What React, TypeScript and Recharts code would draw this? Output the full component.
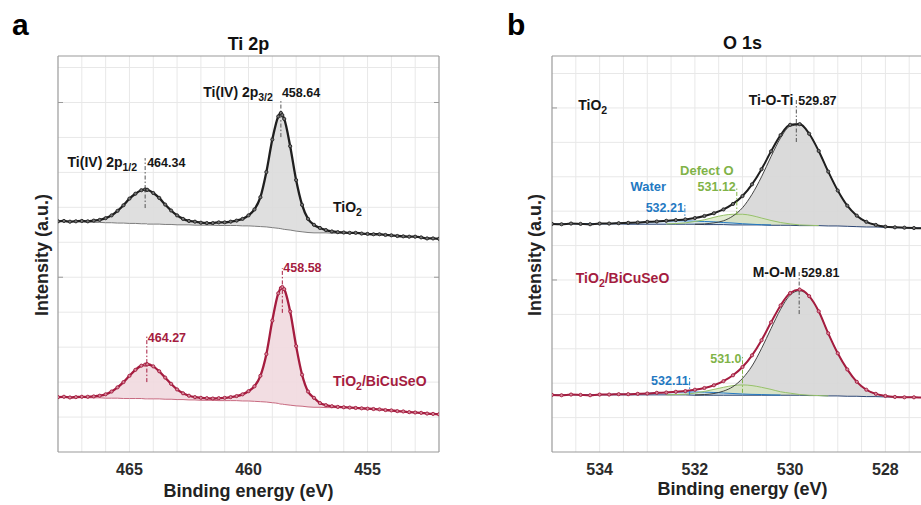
import React from 'react';
import { ComposedChart, Line, Area, XAxis, YAxis, CartesianGrid, ReferenceLine, ReferenceDot } from 'recharts';

const FONT = '"Liberation Sans", Arial, Helvetica, sans-serif';
const BLACK = '#1f1f1f';
const RED = '#a51c3f';
const GREEN = '#80b347';
const BLUE = '#2479c2';
const BOX = '#9a9a9a';
const GRID = '#e8e8e8';
const TXT = '#161616';

// ---------- Panel a : Ti 2p ----------
const A_E = [468, 467.75, 467.5, 467.25, 467, 466.75, 466.5, 466.25, 466, 465.75, 465.5, 465.25, 465, 464.75, 464.5,
  464.34, 464.27,
  464.25, 464, 463.75, 463.5, 463.25, 463, 462.75, 462.5, 462.25, 462, 461.75, 461.5, 461.25, 461, 460.75, 460.5, 460.25, 460, 459.75, 459.5, 459.25, 459, 458.75,
  458.64, 458.58,
  458.5, 458.25, 458, 457.75, 457.5, 457.25, 457, 456.75, 456.5, 456.25, 456, 455.75, 455.5, 455.25, 455, 454.75, 454.5, 454.25, 454, 453.75, 453.5, 453.25, 453, 452.75, 452.5, 452.25, 452];
const A_TIO2 = [6.60, 6.61, 6.59, 6.60, 6.61, 6.60, 6.62, 6.64, 6.69, 6.77, 6.90, 7.06, 7.25, 7.39, 7.49,
  7.51, 7.50,
  7.50, 7.41, 7.27, 7.08, 6.91, 6.77, 6.67, 6.61, 6.59, 6.56, 6.55, 6.55, 6.57, 6.57, 6.59, 6.62, 6.67, 6.77, 6.94, 7.29, 8.01, 8.94, 9.60,
  9.70, 9.64,
  9.53, 8.75, 7.78, 7.07, 6.67, 6.50, 6.41, 6.35, 6.31, 6.29, 6.28, 6.27, 6.27, 6.25, 6.24, 6.23, 6.23, 6.21, 6.20, 6.18, 6.17, 6.16, 6.16, 6.14, 6.11, 6.11, 6.10];
const A_TIO2_BG = [6.60, 6.60, 6.59, 6.59, 6.58, 6.58, 6.57, 6.57, 6.56, 6.56, 6.55, 6.55, 6.54, 6.54, 6.53,
  6.53, 6.53,
  6.52, 6.52, 6.52, 6.51, 6.51, 6.50, 6.50, 6.50, 6.49, 6.49, 6.49, 6.49, 6.48, 6.48, 6.48, 6.48, 6.47, 6.47, 6.46, 6.45, 6.44, 6.42, 6.40,
  6.39, 6.38,
  6.37, 6.35, 6.32, 6.30, 6.28, 6.27, 6.27, 6.27, 6.26, 6.26, 6.26, 6.26, null, null, null, null, null, null, null, null, null, null, null, null, null, null, null];
const A_BI = [1.57, 1.58, 1.56, 1.57, 1.58, 1.58, 1.59, 1.61, 1.65, 1.73, 1.85, 2.00, 2.18, 2.35, 2.47,
  2.50, 2.51,
  2.51, 2.45, 2.31, 2.13, 1.95, 1.79, 1.68, 1.61, 1.57, 1.55, 1.54, 1.53, 1.54, 1.55, 1.57, 1.60, 1.65, 1.74, 1.88, 2.18, 2.80, 3.76, 4.54,
  4.69, 4.72,
  4.66, 4.02, 3.03, 2.21, 1.73, 1.55, 1.40, 1.34, 1.31, 1.29, 1.28, 1.27, 1.26, 1.25, 1.24, 1.23, 1.22, 1.20, 1.19, 1.17, 1.16, 1.14, 1.13, 1.12, 1.10, 1.09, 1.08];
const A_BI_BG = [1.57, 1.57, 1.56, 1.56, 1.56, 1.55, 1.55, 1.55, 1.54, 1.54, 1.54, 1.53, 1.53, 1.53, 1.53,
  1.52, 1.52,
  1.52, 1.52, 1.52, 1.51, 1.51, 1.50, 1.50, 1.49, 1.49, 1.48, 1.48, 1.48, 1.47, 1.47, 1.47, 1.47, 1.46, 1.46, 1.45, 1.44, 1.43, 1.41, 1.39,
  1.37, 1.37,
  1.36, 1.34, 1.32, 1.31, 1.29, 1.28, 1.28, 1.27, 1.27, 1.27, 1.27, 1.27, null, null, null, null, null, null, null, null, null, null, null, null, null, null, null];
const A_X_TICKS = [465, 460, 455];
const A_X_GRID = [453, 454, 455, 456, 457, 458, 459, 460, 461, 462, 463, 464, 465, 466, 467];
const A_X_DOMAIN: [number, number] = [452, 468];
const A_Y_DOMAIN: [number, number] = [0, 11.33];

// ---------- Panel b : O 1s ----------
const B_E = [535.0, 534.8, 534.6, 534.4, 534.2, 534.0, 533.8, 533.6, 533.4, 533.2, 533.0, 532.8, 532.6, 532.4, 532.2, 532.0,
  531.8, 531.6, 531.4, 531.2, 531.0, 530.8, 530.6, 530.4, 530.2, 530.0, 529.8, 529.6, 529.4, 529.2, 529.0, 528.8, 528.6, 528.4,
  528.2, 528.0, 527.8, 527.6, 527.4, 527.2, 527.0];
const B_TIO2 = [6.63, 6.62, 6.64, 6.63, 6.62, 6.64, 6.64, 6.65, 6.66, 6.67, 6.69, 6.70, 6.72, 6.74, 6.76, 6.80,
  6.86, 6.94, 7.05, 7.21, 7.44, 7.78, 8.22, 8.74, 9.21, 9.51, 9.53, 9.25, 8.75, 8.15, 7.60, 7.16, 6.87, 6.69,
  6.60, 6.55, 6.53, 6.52, 6.51, 6.50, 6.50];
const B_TIO2_BG = [6.63, 6.63, 6.63, 6.63, 6.63, 6.63, 6.63, 6.63, 6.62, 6.62, 6.62, 6.62, 6.62, 6.62, 6.62, 6.62,
  6.61, 6.61, 6.61, 6.60, 6.60, 6.60, 6.60, 6.59, 6.59, 6.59, 6.58, 6.58, 6.58, 6.57, 6.57, 6.56, 6.55, 6.54,
  6.54, 6.53, 6.52, 6.52, 6.51, 6.51, 6.50];
const B_TIO2_TIOTI = [null, null, null, null, null, null, null, null, null, null, null, null, null, null, null, 6.62,
  6.63, 6.66, 6.72, 6.86, 7.10, 7.49, 8.00, 8.59, 9.13, 9.47, 9.51, 9.25, 8.75, 8.15, 7.60, 7.16, 6.87, 6.69,
  6.60, 6.55, 6.53, 6.52, null, null, null];
const B_TIO2_DEFECT = [null, null, null, null, null, null, null, null, null, null, null, null, 6.63, 6.64, 6.66, 6.70,
  6.75, 6.82, 6.88, 6.91, 6.91, 6.87, 6.80, 6.73, 6.67, 6.63, 6.60, 6.59, 6.58, null, null, null, null, null,
  null, null, null, null, null, null, null];
const B_TIO2_WATER = [null, null, null, 6.63, 6.635, 6.64, 6.64, 6.65, 6.66, 6.67, 6.685, 6.70, 6.71, 6.72, 6.72, 6.71,
  6.70, 6.69, 6.67, 6.655, 6.635, 6.62, 6.605, 6.60, null, null, null, null, null, null, null, null, null, null,
  null, null, null, null, null, null, null];
const B_BI = [1.66, 1.65, 1.67, 1.66, 1.65, 1.67, 1.67, 1.68, 1.68, 1.69, 1.70, 1.72, 1.73, 1.75, 1.77, 1.81,
  1.86, 1.94, 2.06, 2.23, 2.47, 2.81, 3.25, 3.77, 4.26, 4.62, 4.72, 4.53, 4.09, 3.45, 2.87, 2.40, 2.04, 1.81,
  1.69, 1.63, 1.60, 1.59, 1.59, 1.58, 1.58];
const B_BI_BG = [1.66, 1.66, 1.66, 1.66, 1.66, 1.66, 1.66, 1.66, 1.66, 1.66, 1.66, 1.66, 1.66, 1.66, 1.66, 1.65,
  1.65, 1.65, 1.65, 1.65, 1.65, 1.65, 1.65, 1.65, 1.65, 1.65, 1.65, 1.64, 1.64, 1.63, 1.63, 1.62, 1.62, 1.61,
  1.61, 1.60, 1.60, 1.59, 1.59, 1.58, 1.58];
const B_BI_MOM = [null, null, null, null, null, null, null, null, null, null, null, null, null, null, null, 1.66,
  1.67, 1.70, 1.77, 1.90, 2.14, 2.50, 3.01, 3.59, 4.15, 4.56, 4.69, 4.52, 4.09, 3.45, 2.87, 2.40, 2.04, 1.81,
  1.69, 1.63, 1.60, null, null, null, null];
const B_BI_DEFECT = [null, null, null, null, null, null, null, null, null, null, null, null, 1.66, 1.67, 1.68, 1.71,
  1.76, 1.82, 1.88, 1.93, 1.95, 1.93, 1.88, 1.82, 1.75, 1.71, 1.67, 1.65, 1.64, 1.63, null, null, null, null,
  null, null, null, null, null, null, null];
const B_BI_WATER = [null, null, null, 1.66, 1.665, 1.67, 1.675, 1.68, 1.68, 1.69, 1.705, 1.72, 1.73, 1.74, 1.745, 1.745,
  1.74, 1.73, 1.715, 1.70, 1.685, 1.675, 1.67, 1.66, 1.655, null, null, null, null, null, null, null, null, null,
  null, null, null, null, null, null, null];
const B_X_TICKS = [534, 532, 530, 528];
const B_X_GRID = [527.5, 528, 528.5, 529, 529.5, 530, 530.5, 531, 531.5, 532, 532.5, 533, 533.5, 534, 534.5];
const B_X_DOMAIN: [number, number] = [527, 535];
const B_Y_DOMAIN: [number, number] = [0, 11.51];

const Y_TICKS = [5, 10];
const Y_GRID = [1, 2, 3, 4, 5, 6, 7, 8, 9, 10, 11];

// ---------- annotations (data coordinates) ----------
type Seg = { x: number; y1: number; y2: number; color: string };
type Ann = { x: number; y: number; text: string; sub?: string; after?: string; anchor: 'start' | 'middle' | 'end'; dx?: number; color: string; size: number };

const A_SEGS: Seg[] = [
  { x: 458.64, y1: 9.01, y2: 10.10, color: '#555' },
  { x: 464.34, y1: 6.98, y2: 8.41, color: '#555' },
  { x: 458.58, y1: 3.98, y2: 5.26, color: RED },
  { x: 464.27, y1: 2.0, y2: 3.32, color: RED },
];
const A_ANNS: Ann[] = [
  { x: 458.64, y: 10.16, text: 'Ti(IV) 2p', sub: '3/2', anchor: 'end', dx: -8, color: TXT, size: 14 },
  { x: 458.64, y: 10.16, text: '458.64', anchor: 'start', dx: 1, color: TXT, size: 12.5 },
  { x: 464.34, y: 8.15, text: 'Ti(IV) 2p', sub: '1/2', anchor: 'end', dx: -8, color: TXT, size: 14 },
  { x: 464.34, y: 8.15, text: '464.34', anchor: 'start', dx: 2, color: TXT, size: 12.5 },
  { x: 458.58, y: 5.15, text: '458.58', anchor: 'start', dx: 1, color: RED, size: 12.5 },
  { x: 464.27, y: 3.15, text: '464.27', anchor: 'start', dx: 1, color: RED, size: 12.5 },
  { x: 456.45, y: 6.87, text: 'TiO', sub: '2', anchor: 'start', color: TXT, size: 14 },
  { x: 456.45, y: 1.89, text: 'TiO', sub: '2', after: '/BiCuSeO', anchor: 'start', color: RED, size: 14 },
];
const B_SEGS: Seg[] = [
  { x: 529.87, y1: 9.01, y2: 10.23, color: '#555' },
  { x: 531.12, y1: 6.89, y2: 7.67, color: GREEN },
  { x: 532.21, y1: 6.69, y2: 7.18, color: BLUE },
  { x: 529.81, y1: 4.01, y2: 5.23, color: '#555' },
  { x: 531.0, y1: 1.72, y2: 2.76, color: GREEN },
  { x: 532.11, y1: 1.66, y2: 2.15, color: BLUE },
];
const B_ANNS: Ann[] = [
  { x: 534.45, y: 9.94, text: 'TiO', sub: '2', anchor: 'start', color: TXT, size: 14 },
  { x: 529.87, y: 10.09, text: 'Ti-O-Ti', anchor: 'end', dx: -3, color: TXT, size: 14 },
  { x: 529.87, y: 10.09, text: '529.87', anchor: 'start', dx: 2, color: TXT, size: 12.5 },
  { x: 531.75, y: 8.05, text: 'Defect O', anchor: 'middle', color: GREEN, size: 13 },
  { x: 532.98, y: 7.59, text: 'Water', anchor: 'middle', color: BLUE, size: 13 },
  { x: 531.12, y: 7.59, text: '531.12', anchor: 'end', dx: -1, color: GREEN, size: 12.5 },
  { x: 532.21, y: 6.98, text: '532.21', anchor: 'end', dx: -1, color: BLUE, size: 12.5 },
  { x: 534.5, y: 4.91, text: 'TiO', sub: '2', after: '/BiCuSeO', anchor: 'start', color: RED, size: 14 },
  { x: 529.81, y: 5.09, text: 'M-O-M', anchor: 'end', dx: -3, color: TXT, size: 14 },
  { x: 529.81, y: 5.09, text: '529.81', anchor: 'start', dx: 2, color: TXT, size: 12.5 },
  { x: 531.0, y: 2.59, text: '531.0', anchor: 'end', dx: -1, color: GREEN, size: 12.5 },
  { x: 532.11, y: 1.95, text: '532.11', anchor: 'end', dx: -1, color: BLUE, size: 12.5 },
];

const rowsA = A_E.map((E, i) => ({ E, tio2: A_TIO2[i], tio2Bg: A_TIO2_BG[i], bi: A_BI[i], biBg: A_BI_BG[i] }));
const rowsB = B_E.map((E, i) => ({
  E,
  tio2: B_TIO2[i], tio2Bg: B_TIO2_BG[i], tioti: B_TIO2_TIOTI[i], tDef: B_TIO2_DEFECT[i], tWat: B_TIO2_WATER[i],
  bi: B_BI[i], biBg: B_BI_BG[i], mom: B_BI_MOM[i], bDef: B_BI_DEFECT[i], bWat: B_BI_WATER[i],
}));

const range = (lo: string, hi: string) => (r: any) => (r[lo] == null || r[hi] == null ? null : [r[lo], r[hi]]);

const noTick = () => <g />;

function annShape(a: Ann) {
  return (p: any) => (
    <text x={p.cx + (a.dx || 0)} y={p.cy} textAnchor={a.anchor} fill={a.color} fontSize={a.size} fontWeight={700} fontFamily={FONT}>
      {a.text}
      {a.sub ? <tspan dy={4} fontSize={a.size * 0.75}>{a.sub}</tspan> : null}
      {a.after ? <tspan dy={-4}>{a.after}</tspan> : null}
    </text>
  );
}

function frame(xDomain: [number, number], xTicks: number[], yDomain: [number, number]) {
  const common = { type: 'number' as const, domain: xDomain, reversed: true, ticks: xTicks, allowDataOverflow: true, interval: 0 as const };
  const ycommon = { type: 'number' as const, domain: yDomain, ticks: Y_TICKS, allowDataOverflow: true, interval: 0 as const };
  return [
    <XAxis key="xm" xAxisId={0} dataKey="E" {...common} height={30} tickLine={false}
      axisLine={{ stroke: BOX, strokeWidth: 1.2 }} tickSize={0} tickMargin={12}
      tick={{ fill: '#2b2b2b', fontSize: 16, fontWeight: 700, fontFamily: FONT }} />,
    <XAxis key="xb" xAxisId="xb" {...common} orientation="bottom" mirror axisLine={false}
      tickLine={{ stroke: BOX }} tickSize={5} tick={noTick} />,
    <XAxis key="xt" xAxisId="xt" {...common} orientation="top" mirror
      axisLine={{ stroke: BOX, strokeWidth: 1.2 }} tickLine={{ stroke: BOX }} tickSize={5} tick={noTick} />,
    <YAxis key="yl" yAxisId={0} {...ycommon} orientation="left" mirror
      axisLine={{ stroke: BOX, strokeWidth: 1.2 }} tickLine={{ stroke: BOX }} tickSize={5} tick={noTick} />,
    <YAxis key="yr" yAxisId="yr" {...ycommon} orientation="right" mirror
      axisLine={{ stroke: BOX, strokeWidth: 1.2 }} tickLine={{ stroke: BOX }} tickSize={5} tick={noTick} />,
  ];
}

function segs(list: Seg[]) {
  return list.map((s, i) => (
    <ReferenceLine key={'s' + i} segment={[{ x: s.x, y: s.y1 }, { x: s.x, y: s.y2 }]} stroke={s.color}
      strokeWidth={1} strokeDasharray="4 2 1.5 2" ifOverflow="visible" />
  ));
}
function anns(list: Ann[]) {
  return list.map((a, i) => (
    <ReferenceDot key={'a' + i} x={a.x} y={a.y} r={0} ifOverflow="visible" shape={annShape(a)} />
  ));
}

const dataDot = (stroke: string, fill: string) => ({ r: 1.6, stroke, fill, strokeWidth: 0.9 });

function ChartA() {
  return (
    <ComposedChart width={460} height={505} data={rowsA} margin={{ top: 56, right: 21, bottom: 23, left: 58 }}>
      <CartesianGrid horizontalValues={Y_GRID} verticalValues={A_X_GRID} stroke={GRID} strokeWidth={1} />
      {frame(A_X_DOMAIN, A_X_TICKS, A_Y_DOMAIN)}
      <Area dataKey={range('tio2Bg', 'tio2')} type="monotone" stroke="none" fill="#dcdcdc" fillOpacity={0.9} isAnimationActive={false} />
      <Area dataKey={range('biBg', 'bi')} type="monotone" stroke="none" fill="#f1d9df" fillOpacity={0.9} isAnimationActive={false} />
      <Line dataKey="tio2Bg" type="monotone" stroke="#7d7d7d" strokeWidth={1} dot={false} isAnimationActive={false} />
      <Line dataKey="biBg" type="monotone" stroke="#c86a80" strokeWidth={1} dot={false} isAnimationActive={false} />
      <Line dataKey="tio2" type="monotone" stroke={BLACK} strokeWidth={2.3} dot={dataDot('#222', '#777')} isAnimationActive={false} />
      <Line dataKey="bi" type="monotone" stroke={RED} strokeWidth={2.3} dot={dataDot(RED, '#d58a9b')} isAnimationActive={false} />
      {segs(A_SEGS)}
      {anns(A_ANNS)}
    </ComposedChart>
  );
}

function ChartB() {
  return (
    <ComposedChart width={500} height={505} data={rowsB} margin={{ top: 56, right: 27, bottom: 23, left: 92 }}>
      <CartesianGrid horizontalValues={Y_GRID} verticalValues={B_X_GRID} stroke={GRID} strokeWidth={1} />
      {frame(B_X_DOMAIN, B_X_TICKS, B_Y_DOMAIN)}
      <Area dataKey={range('tio2Bg', 'tioti')} type="monotone" stroke="none" fill="#d6d6d6" fillOpacity={0.9} isAnimationActive={false} />
      <Area dataKey={range('tio2Bg', 'tDef')} type="monotone" stroke="none" fill="#d5e6bf" fillOpacity={0.7} isAnimationActive={false} />
      <Area dataKey={range('tio2Bg', 'tWat')} type="monotone" stroke="none" fill="#cfe1f2" fillOpacity={0.7} isAnimationActive={false} />
      <Area dataKey={range('biBg', 'mom')} type="monotone" stroke="none" fill="#d6d6d6" fillOpacity={0.9} isAnimationActive={false} />
      <Area dataKey={range('biBg', 'bDef')} type="monotone" stroke="none" fill="#d5e6bf" fillOpacity={0.7} isAnimationActive={false} />
      <Area dataKey={range('biBg', 'bWat')} type="monotone" stroke="none" fill="#cfe1f2" fillOpacity={0.7} isAnimationActive={false} />
      <Line dataKey="tio2Bg" type="monotone" stroke="#2d4775" strokeWidth={1} dot={false} isAnimationActive={false} />
      <Line dataKey="biBg" type="monotone" stroke="#2d4775" strokeWidth={1} dot={false} isAnimationActive={false} />
      <Line dataKey="tWat" type="monotone" stroke={BLUE} strokeWidth={1} dot={false} isAnimationActive={false} />
      <Line dataKey="bWat" type="monotone" stroke={BLUE} strokeWidth={1} dot={false} isAnimationActive={false} />
      <Line dataKey="tDef" type="monotone" stroke="#97c26a" strokeWidth={1} dot={false} isAnimationActive={false} />
      <Line dataKey="bDef" type="monotone" stroke="#97c26a" strokeWidth={1} dot={false} isAnimationActive={false} />
      <Line dataKey="tioti" type="monotone" stroke="#333" strokeWidth={0.9} dot={false} isAnimationActive={false} />
      <Line dataKey="mom" type="monotone" stroke="#333" strokeWidth={0.9} dot={false} isAnimationActive={false} />
      <Line dataKey="tio2" type="monotone" stroke={BLACK} strokeWidth={2} dot={dataDot('#222', '#777')} isAnimationActive={false} />
      <Line dataKey="bi" type="monotone" stroke={RED} strokeWidth={2} dot={dataDot(RED, '#d58a9b')} isAnimationActive={false} />
      {segs(B_SEGS)}
      {anns(B_ANNS)}
    </ComposedChart>
  );
}

export default function App() {
  return (
    <div style={{ position: 'absolute', left: 0, top: 0, width: 921, height: 505, overflow: 'hidden', background: '#fff' }}>
      <div style={{ position: 'absolute', left: 0, top: 0 }}><ChartA /></div>
      <div style={{ position: 'absolute', left: 460, top: 0 }}><ChartB /></div>
      <svg width={921} height={505} style={{ position: 'absolute', left: 0, top: 0, pointerEvents: 'none' }}
        fontFamily={FONT} fontWeight={700}>
        <text x={12} y={35} fontSize={30} fill="#000">a</text>
        <text x={507} y={35} fontSize={30} fill="#000">b</text>
        <text x={248.5} y={50} fontSize={18} fill="#111" textAnchor="middle">Ti 2p</text>
        <text x={742.5} y={49} fontSize={18} fill="#111" textAnchor="middle">O 1s</text>
        <text transform="translate(48,255) rotate(-90)" fontSize={18} fill="#222" textAnchor="middle">Intensity (a.u.)</text>
        <text transform="translate(541,255) rotate(-90)" fontSize={18} fill="#222" textAnchor="middle">Intensity (a.u.)</text>
        <text x={248.5} y={497} fontSize={18} fill="#222" textAnchor="middle">Binding energy (eV)</text>
        <text x={742.5} y={495} fontSize={18} fill="#222" textAnchor="middle">Binding energy (eV)</text>
      </svg>
    </div>
  );
}
